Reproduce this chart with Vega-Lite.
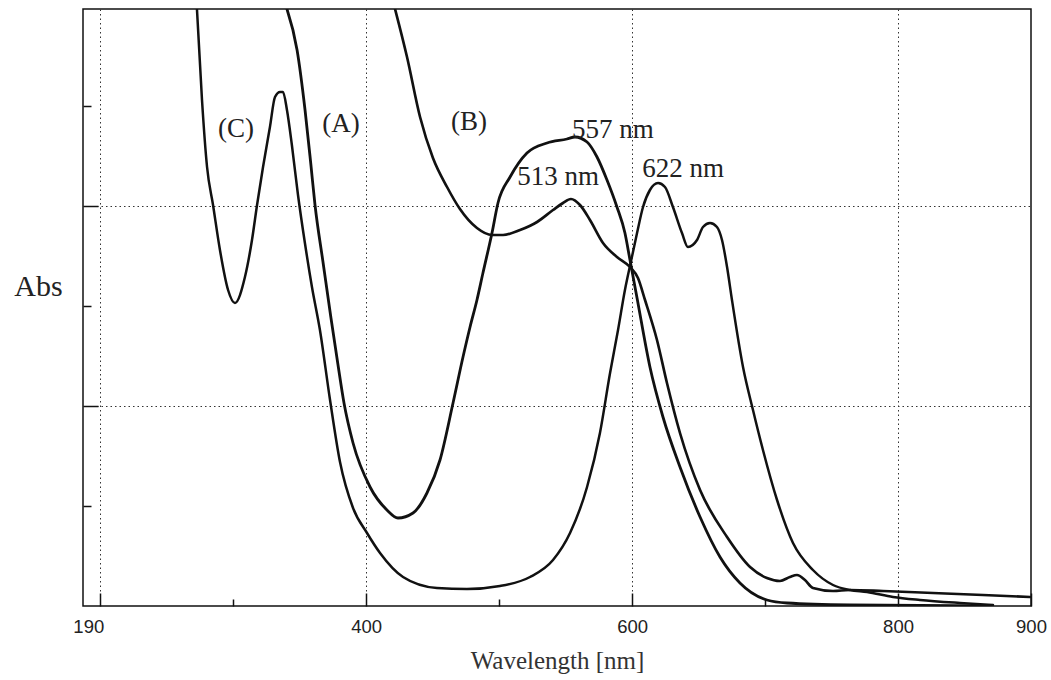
{
  "$schema": "https://vega.github.io/schema/vega-lite/v6.json",
  "width": 948,
  "height": 597,
  "autosize": "none",
  "padding": {"left": 83, "top": 9, "right": 20, "bottom": 74},
  "background": "white",
  "config": {
    "view": {"stroke": "#111", "strokeWidth": 1.5},
    "axis": {"domain": false}
  },
  "datasets": {
    "spectra": [
      {"series": "C", "nm": 272.7, "abs": 1.194},
      {"series": "C", "nm": 276.5, "abs": 1.012},
      {"series": "C", "nm": 280.3, "abs": 0.878},
      {"series": "C", "nm": 284.8, "abs": 0.802},
      {"series": "C", "nm": 290.0, "abs": 0.712},
      {"series": "C", "nm": 296.1, "abs": 0.632},
      {"series": "C", "nm": 301.3, "abs": 0.606},
      {"series": "C", "nm": 308.8, "abs": 0.658},
      {"series": "C", "nm": 314.1, "abs": 0.732},
      {"series": "C", "nm": 317.9, "abs": 0.802},
      {"series": "C", "nm": 322.4, "abs": 0.878},
      {"series": "C", "nm": 327.6, "abs": 0.958},
      {"series": "C", "nm": 331.4, "abs": 1.018},
      {"series": "C", "nm": 335.2, "abs": 1.028},
      {"series": "C", "nm": 337.4, "abs": 1.028},
      {"series": "C", "nm": 340.4, "abs": 0.992},
      {"series": "C", "nm": 344.1, "abs": 0.922},
      {"series": "C", "nm": 348.7, "abs": 0.822},
      {"series": "C", "nm": 353.9, "abs": 0.726},
      {"series": "C", "nm": 359.2, "abs": 0.638},
      {"series": "C", "nm": 365.2, "abs": 0.552},
      {"series": "C", "nm": 372.8, "abs": 0.412},
      {"series": "C", "nm": 380.3, "abs": 0.288},
      {"series": "C", "nm": 390.1, "abs": 0.196},
      {"series": "C", "nm": 400.6, "abs": 0.146},
      {"series": "C", "nm": 410.4, "abs": 0.106},
      {"series": "C", "nm": 427.7, "abs": 0.058},
      {"series": "C", "nm": 453.2, "abs": 0.036},
      {"series": "C", "nm": 475.8, "abs": 0.034},
      {"series": "C", "nm": 500.6, "abs": 0.040},
      {"series": "C", "nm": 523.2, "abs": 0.058},
      {"series": "C", "nm": 540.5, "abs": 0.092},
      {"series": "C", "nm": 553.3, "abs": 0.146},
      {"series": "C", "nm": 566.1, "abs": 0.238},
      {"series": "C", "nm": 575.8, "abs": 0.346},
      {"series": "C", "nm": 583.4, "abs": 0.466},
      {"series": "C", "nm": 589.4, "abs": 0.552},
      {"series": "C", "nm": 594.6, "abs": 0.632},
      {"series": "C", "nm": 599.2, "abs": 0.690},
      {"series": "C", "nm": 603.7, "abs": 0.746},
      {"series": "C", "nm": 608.2, "abs": 0.798},
      {"series": "C", "nm": 613.4, "abs": 0.832},
      {"series": "C", "nm": 619.5, "abs": 0.846},
      {"series": "C", "nm": 624.7, "abs": 0.838},
      {"series": "C", "nm": 630.7, "abs": 0.798},
      {"series": "C", "nm": 637.5, "abs": 0.746},
      {"series": "C", "nm": 642.0, "abs": 0.718},
      {"series": "C", "nm": 648.8, "abs": 0.732},
      {"series": "C", "nm": 653.3, "abs": 0.758},
      {"series": "C", "nm": 658.6, "abs": 0.766},
      {"series": "C", "nm": 663.8, "abs": 0.758},
      {"series": "C", "nm": 667.6, "abs": 0.732},
      {"series": "C", "nm": 671.4, "abs": 0.678},
      {"series": "C", "nm": 675.1, "abs": 0.612},
      {"series": "C", "nm": 683.4, "abs": 0.478},
      {"series": "C", "nm": 690.9, "abs": 0.392},
      {"series": "C", "nm": 698.4, "abs": 0.312},
      {"series": "C", "nm": 709.0, "abs": 0.212},
      {"series": "C", "nm": 721.0, "abs": 0.126},
      {"series": "C", "nm": 736.0, "abs": 0.072},
      {"series": "C", "nm": 751.1, "abs": 0.042},
      {"series": "C", "nm": 763.9, "abs": 0.032},
      {"series": "C", "nm": 776.7, "abs": 0.028},
      {"series": "C", "nm": 796.2, "abs": 0.018},
      {"series": "C", "nm": 816.5, "abs": 0.012},
      {"series": "C", "nm": 846.6, "abs": 0.006},
      {"series": "C", "nm": 871.4, "abs": 0.002},
      {"series": "A", "nm": 340.4, "abs": 1.194},
      {"series": "A", "nm": 348.0, "abs": 1.112},
      {"series": "A", "nm": 354.0, "abs": 0.992},
      {"series": "A", "nm": 358.5, "abs": 0.880},
      {"series": "A", "nm": 361.5, "abs": 0.802},
      {"series": "A", "nm": 367.5, "abs": 0.688},
      {"series": "A", "nm": 373.5, "abs": 0.576},
      {"series": "A", "nm": 378.8, "abs": 0.482},
      {"series": "A", "nm": 383.3, "abs": 0.406},
      {"series": "A", "nm": 390.1, "abs": 0.326},
      {"series": "A", "nm": 402.9, "abs": 0.238},
      {"series": "A", "nm": 415.6, "abs": 0.192},
      {"series": "A", "nm": 423.9, "abs": 0.176},
      {"series": "A", "nm": 435.2, "abs": 0.186},
      {"series": "A", "nm": 445.7, "abs": 0.226},
      {"series": "A", "nm": 455.5, "abs": 0.292},
      {"series": "A", "nm": 465.3, "abs": 0.406},
      {"series": "A", "nm": 472.8, "abs": 0.498},
      {"series": "A", "nm": 478.1, "abs": 0.558},
      {"series": "A", "nm": 483.3, "abs": 0.612},
      {"series": "A", "nm": 487.8, "abs": 0.666},
      {"series": "A", "nm": 494.6, "abs": 0.746},
      {"series": "A", "nm": 499.1, "abs": 0.806},
      {"series": "A", "nm": 508.2, "abs": 0.858},
      {"series": "A", "nm": 520.9, "abs": 0.906},
      {"series": "A", "nm": 536.0, "abs": 0.926},
      {"series": "A", "nm": 551.0, "abs": 0.934},
      {"series": "A", "nm": 557.0, "abs": 0.938},
      {"series": "A", "nm": 566.1, "abs": 0.928},
      {"series": "A", "nm": 573.6, "abs": 0.898},
      {"series": "A", "nm": 581.1, "abs": 0.852},
      {"series": "A", "nm": 588.6, "abs": 0.798},
      {"series": "A", "nm": 594.6, "abs": 0.746},
      {"series": "A", "nm": 598.4, "abs": 0.692},
      {"series": "A", "nm": 603.7, "abs": 0.616},
      {"series": "A", "nm": 613.4, "abs": 0.478},
      {"series": "A", "nm": 623.2, "abs": 0.378},
      {"series": "A", "nm": 636.0, "abs": 0.278},
      {"series": "A", "nm": 651.1, "abs": 0.178},
      {"series": "A", "nm": 666.1, "abs": 0.098},
      {"series": "A", "nm": 681.1, "abs": 0.046},
      {"series": "A", "nm": 701.4, "abs": 0.012},
      {"series": "A", "nm": 716.5, "abs": 0.006},
      {"series": "A", "nm": 763.9, "abs": 0.002},
      {"series": "A", "nm": 869.2, "abs": 0.0},
      {"series": "B", "nm": 421.7, "abs": 1.194},
      {"series": "B", "nm": 430.7, "abs": 1.098},
      {"series": "B", "nm": 440.5, "abs": 0.978},
      {"series": "B", "nm": 450.2, "abs": 0.896},
      {"series": "B", "nm": 460.8, "abs": 0.838},
      {"series": "B", "nm": 470.5, "abs": 0.794},
      {"series": "B", "nm": 483.3, "abs": 0.756},
      {"series": "B", "nm": 494.6, "abs": 0.742},
      {"series": "B", "nm": 502.9, "abs": 0.742},
      {"series": "B", "nm": 515.7, "abs": 0.752},
      {"series": "B", "nm": 528.5, "abs": 0.768},
      {"series": "B", "nm": 540.5, "abs": 0.792},
      {"series": "B", "nm": 548.0, "abs": 0.806},
      {"series": "B", "nm": 554.0, "abs": 0.814},
      {"series": "B", "nm": 560.8, "abs": 0.802},
      {"series": "B", "nm": 568.3, "abs": 0.772},
      {"series": "B", "nm": 578.1, "abs": 0.726},
      {"series": "B", "nm": 588.6, "abs": 0.698},
      {"series": "B", "nm": 598.4, "abs": 0.678},
      {"series": "B", "nm": 604.4, "abs": 0.656},
      {"series": "B", "nm": 609.7, "abs": 0.612},
      {"series": "B", "nm": 618.7, "abs": 0.532},
      {"series": "B", "nm": 626.2, "abs": 0.446},
      {"series": "B", "nm": 636.0, "abs": 0.346},
      {"series": "B", "nm": 651.1, "abs": 0.232},
      {"series": "B", "nm": 671.4, "abs": 0.138},
      {"series": "B", "nm": 688.7, "abs": 0.078},
      {"series": "B", "nm": 701.4, "abs": 0.056},
      {"series": "B", "nm": 711.2, "abs": 0.050},
      {"series": "B", "nm": 718.7, "abs": 0.058},
      {"series": "B", "nm": 724.0, "abs": 0.062},
      {"series": "B", "nm": 730.0, "abs": 0.052},
      {"series": "B", "nm": 736.0, "abs": 0.036},
      {"series": "B", "nm": 751.1, "abs": 0.030},
      {"series": "B", "nm": 763.9, "abs": 0.032},
      {"series": "B", "nm": 788.7, "abs": 0.030},
      {"series": "B", "nm": 826.3, "abs": 0.026},
      {"series": "B", "nm": 863.9, "abs": 0.022},
      {"series": "B", "nm": 899.2, "abs": 0.018}
    ],
    "notes": [
      {"label": "(C)", "nm": 302.1, "abs": 0.938},
      {"label": "(A)", "nm": 381.0, "abs": 0.948},
      {"label": "(B)", "nm": 477.3, "abs": 0.952},
      {"label": "557 nm", "nm": 585.6, "abs": 0.936},
      {"label": "513 nm", "nm": 544.3, "abs": 0.842},
      {"label": "622 nm", "nm": 638.3, "abs": 0.858}
    ]
  },
  "layer": [
    {
      "data": {"name": "spectra"},
      "mark": {"type": "line", "interpolate": "monotone", "clip": true, "strokeJoin": "round", "strokeCap": "round"},
      "encoding": {
        "x": {
          "field": "nm", "type": "quantitative",
          "scale": {"domain": [187, 900], "nice": false, "zero": false},
          "axis": {
            "values": [200, 300, 400, 500, 600, 700, 800, 900],
            "labelExpr": "datum.value == 200 ? '190' : ((datum.value == 400 || datum.value == 600 || datum.value == 800 || datum.value == 900) ? datum.label : '')",
            "labelOffset": {"condition": {"test": "datum.value == 200", "value": -12}, "value": 0},
            "tickSize": {"condition": {"test": "datum.value % 200 == 0 || datum.value == 900", "value": -13}, "value": -7},
            "tickColor": "#111",
            "tickWidth": 1.5,
            "grid": true,
            "gridOpacity": {"condition": {"test": "datum.value % 200 == 0 && datum.value < 900", "value": 1}, "value": 0},
            "gridDash": [1.5, 3],
            "gridColor": "#333",
            "gridWidth": 1,
            "labelFont": "Liberation Sans",
            "labelFontSize": 18.5,
            "labelColor": "#222",
            "labelPadding": 24,
            "labelFlush": false,
            "title": "Wavelength [nm]",
            "titleFont": "Liberation Serif",
            "titleFontSize": 25,
            "titleFontWeight": "normal",
            "titleColor": "#333",
            "titleBaseline": "alphabetic",
            "titleY": 62
          }
        },
        "y": {
          "field": "abs", "type": "quantitative",
          "scale": {"domain": [0, 1.194], "nice": false, "zero": false},
          "axis": {
            "values": [0.2, 0.4, 0.6, 0.8, 1.0],
            "labels": false,
            "tickSize": {"condition": {"test": "abs(datum.value - 0.4) < 0.01 || abs(datum.value - 0.8) < 0.01", "value": -15}, "value": -8},
            "tickColor": "#111",
            "tickWidth": 1.5,
            "grid": true,
            "gridOpacity": {"condition": {"test": "abs(datum.value - 0.4) < 0.01 || abs(datum.value - 0.8) < 0.01", "value": 1}, "value": 0},
            "gridDash": [1.5, 3],
            "gridColor": "#333",
            "gridWidth": 1,
            "title": "Abs",
            "titleAngle": 0,
            "titleFont": "Liberation Serif",
            "titleFontSize": 30,
            "titleFontWeight": "normal",
            "titleColor": "#222",
            "titleAlign": "center",
            "titleBaseline": "alphabetic",
            "titleX": -45,
            "titleY": 286
          }
        },
        "detail": {"field": "series", "type": "nominal"},
        "color": {"value": "#111"},
        "strokeWidth": {
          "field": "series", "type": "nominal",
          "scale": {"domain": ["A", "B", "C"], "range": [2.8, 2.5, 1.8]},
          "legend": null
        }
      }
    },
    {
      "data": {"name": "notes"},
      "mark": {"type": "text", "font": "Liberation Serif", "fontSize": 27, "color": "#222", "align": "center", "baseline": "alphabetic"},
      "encoding": {
        "x": {"field": "nm", "type": "quantitative"},
        "y": {"field": "abs", "type": "quantitative"},
        "text": {"field": "label"}
      }
    }
  ]
}
